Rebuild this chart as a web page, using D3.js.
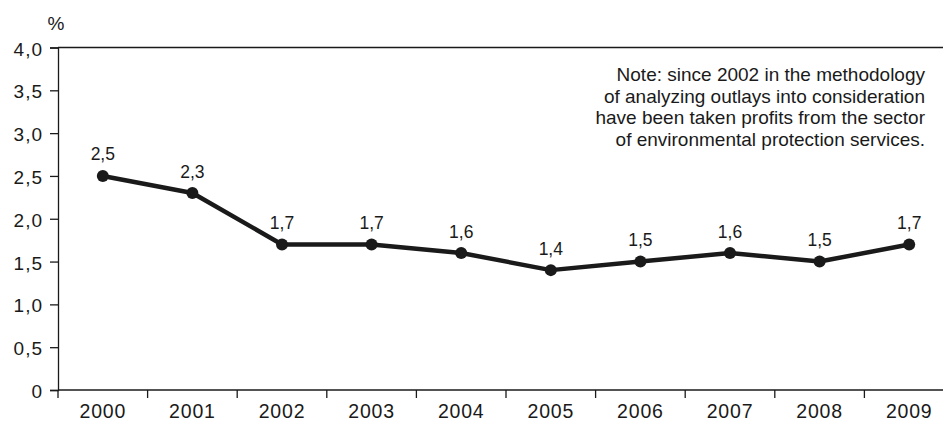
<!DOCTYPE html>
<html>
<head>
<meta charset="utf-8">
<script src="https://cdn.jsdelivr.net/npm/d3@7"></script>
<style>
  html, body { margin: 0; padding: 0; background: #fff; }
  svg { display: block; font-family: "Liberation Sans", Arial, sans-serif; }
</style>
</head>
<body>
<svg id="chart" width="943" height="422"></svg>
<script>
// Environmental protection outlays, % — yearly values
const years = ["2000", "2001", "2002", "2003", "2004", "2005", "2006", "2007", "2008", "2009"];
const values = [2.5, 2.3, 1.7, 1.7, 1.6, 1.4, 1.5, 1.6, 1.5, 1.7];
const yTicks = [0, 0.5, 1.0, 1.5, 2.0, 2.5, 3.0, 3.5, 4.0];
const noteLines = [
  "Note: since 2002 in the methodology",
  "of analyzing outlays into consideration",
  "have been taken profits from the sector",
  "of environmental protection services."
];

const fmt = v => v === 0 ? "0" : d3.format(".1f")(v).replace(".", ",");
const ink = "#1a1a1a";

const svg = d3.select("#chart");
const plotLeft = 58, plotTop = 47.5, plotBottom = 390;

const x = d3.scaleBand().domain(years).range([plotLeft, plotLeft + 89.6 * years.length]);
const y = d3.scaleLinear().domain([0, 4]).range([plotBottom, plotTop]);

// top frame line
svg.append("line")
  .attr("x1", plotLeft).attr("x2", 943)
  .attr("y1", plotTop).attr("y2", plotTop)
  .attr("stroke", ink).attr("stroke-width", 1.3);

// y axis
const yAxis = svg.append("g")
  .attr("transform", `translate(${plotLeft},0)`)
  .call(d3.axisLeft(y).tickValues(yTicks).tickFormat(fmt).tickSize(8).tickPadding(7));
yAxis.select(".domain").attr("stroke", ink).attr("stroke-width", 1.3);
yAxis.selectAll(".tick line").attr("stroke", ink).attr("stroke-width", 1.3);
yAxis.selectAll(".tick text").attr("fill", ink).attr("font-size", 19)
  .attr("letter-spacing", 1).attr("dy", "0.4em")
  .attr("font-family", "Liberation Sans, Arial, sans-serif");

// x axis: ticks on category boundaries
const xAxis = svg.append("g").attr("transform", `translate(0,${plotBottom})`);
xAxis.append("line")
  .attr("x1", plotLeft).attr("x2", 943).attr("y1", 0).attr("y2", 0)
  .attr("stroke", ink).attr("stroke-width", 1.3);
xAxis.selectAll("line.tk").data(years).join("line")
  .attr("class", "tk")
  .attr("x1", d => x(d)).attr("x2", d => x(d))
  .attr("y1", 0).attr("y2", 8)
  .attr("stroke", ink).attr("stroke-width", 1.3);
xAxis.selectAll("text").data(years).join("text")
  .attr("x", d => x(d) + x.bandwidth() / 2)
  .attr("y", 27.5)
  .attr("text-anchor", "middle")
  .attr("font-size", 19.5).attr("letter-spacing", 0.8).attr("fill", ink)
  .text(d => d);

// unit label
svg.append("text").attr("x", 56).attr("y", 30)
  .attr("text-anchor", "middle").attr("font-size", 19).attr("fill", ink).text("%");

// note
svg.append("text")
  .attr("text-anchor", "end").attr("font-size", 19).attr("fill", ink)
  .selectAll("tspan").data(noteLines).join("tspan")
  .attr("x", 925).attr("y", (d, i) => 81 + i * 21.7)
  .text(d => d);

// line
const pts = years.map((yr, i) => ({ yr, v: values[i] }));
svg.append("path").datum(pts)
  .attr("fill", "none").attr("stroke", ink).attr("stroke-width", 4.5)
  .attr("stroke-linejoin", "round")
  .attr("d", d3.line().x(d => x(d.yr) + x.bandwidth() / 2).y(d => y(d.v)));

svg.selectAll("circle.pt").data(pts).join("circle")
  .attr("class", "pt")
  .attr("cx", d => x(d.yr) + x.bandwidth() / 2)
  .attr("cy", d => y(d.v))
  .attr("r", 6).attr("fill", ink);

svg.selectAll("text.lbl").data(pts).join("text")
  .attr("class", "lbl")
  .attr("x", d => x(d.yr) + x.bandwidth() / 2)
  .attr("y", d => y(d.v) - 15.5)
  .attr("text-anchor", "middle").attr("font-size", 17.5).attr("fill", ink)
  .text(d => fmt(d.v));
</script>
</body>
</html>
